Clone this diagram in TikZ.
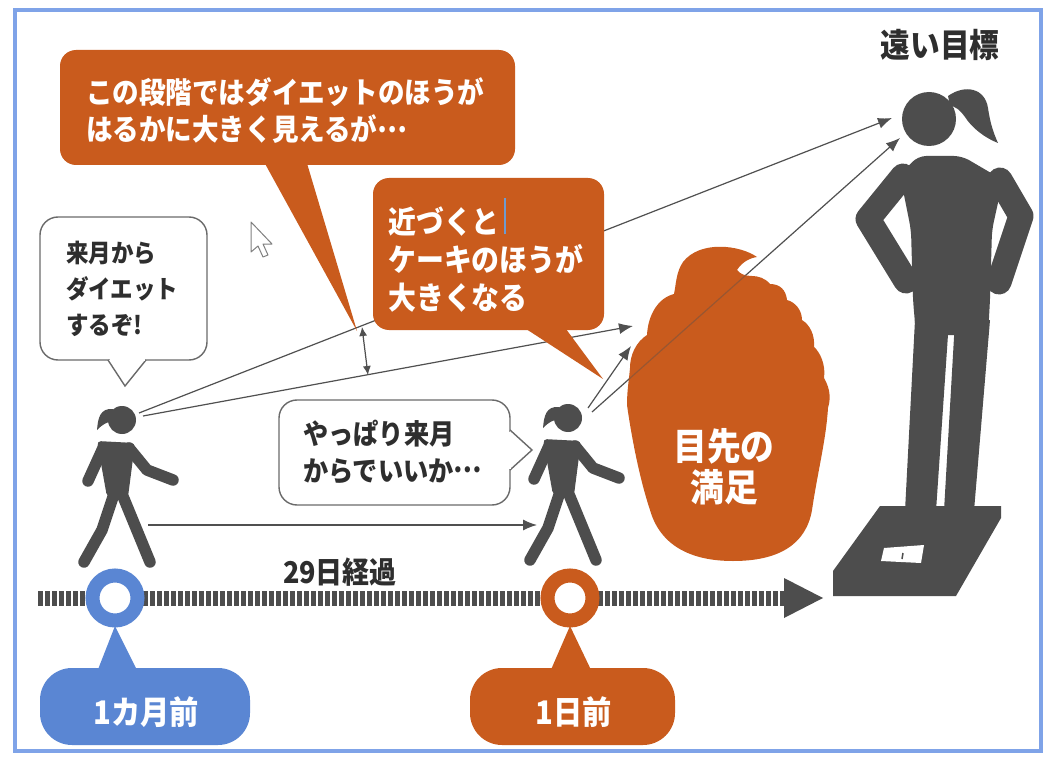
\documentclass[tikz,border=0pt]{standalone}
\usepackage{fontspec}
\setmainfont{Noto Sans CJK JP}[FakeStretch=0.9]
\usetikzlibrary{arrows.meta}

\definecolor{orng}{HTML}{C95B1D}
\definecolor{figgray}{HTML}{4D4D4D}
\definecolor{linegray}{HTML}{505050}
\definecolor{frameblue}{HTML}{7FA3E8}
\definecolor{tagblue}{HTML}{5A86D3}
\definecolor{textgray}{HTML}{2E2E2E}
\definecolor{boxgray}{HTML}{6A6A6A}
\definecolor{caretblue}{HTML}{6E9BD0}

% ellipsis set at mid height, as in Japanese typesetting
\newcommand\jpdots{\raisebox{0.3em}{…}}

\tikzset{
  sight/.style={draw=linegray, line width=1.2pt, -{Latex[length=14pt,width=11pt]}},
  gapline/.style={draw=linegray, line width=1.2pt, {Latex[length=9pt,width=8pt]}-{Latex[length=9pt,width=8pt]}},
  limb/.style={draw=figgray, line width=11.5pt, line cap=round, line join=round},
  biglimb/.style={draw=figgray, line width=25pt, line cap=round, line join=round},
  whitebubble/.style={fill=white, draw=boxgray, line width=1.4pt},
  wtext/.style={text=white, inner sep=0pt, align=left},
  dtext/.style={text=textgray, inner sep=0pt, align=left},
  walker/.pic={
    \fill[figgray] (0,0) circle (14pt);
    \fill[figgray] (-9,-11) .. controls (-22,-12) and (-24,-2) .. (-25,10)
                   .. controls (-19,4) and (-15,2) .. (-11,2) -- cycle;
    \fill[figgray, rounded corners=4pt] (-25,21) -- (13,23) -- (6,77) -- (-15,77) -- cycle;
    \draw[limb] (-19,28) -- (-34,61);
    \draw[limb] (7,28) -- (25,50) -- (51,60);
    \draw[limb] (-8,74) -- (-20,110) -- (-38,142);
    \draw[limb] (0,74) -- (28,142);
  }
}

% outline of the cupcake: tiered frosting with a curl on top, then the cup
\newcommand\cakeoutline{(757,257)
  .. controls (740,245) and (700,240) .. (683,262)
  .. controls (676,272) and (676,285) .. (674,294)
  .. controls (658,298) and (648,315) .. (647,335)
  .. controls (636,342) and (630,355) .. (630,368)
  .. controls (629,380) and (627,390) .. (627,405)
  .. controls (632,440) and (640,480) .. (650,510)
  .. controls (660,545) and (690,561) .. (733,561)
  .. controls (778,561) and (806,545) .. (812,510)
  .. controls (818,470) and (826,440) .. (828,408)
  .. controls (832,395) and (828,385) .. (824,378)
  .. controls (826,365) and (820,352) .. (814,347)
  .. controls (815,335) and (810,325) .. (802,320)
  .. controls (802,310) and (795,302) .. (787,300)
  .. controls (786,290) and (780,284) .. (770,284)
  .. controls (765,278) and (758,276) .. (752,276)
  .. controls (745,276) and (740,274) .. (737,270)
  .. controls (742,262) and (750,258) .. (757,257) -- cycle}

\begin{document}
\begin{tikzpicture}[x=1pt,y=-1pt]
\useasboundingbox (0,0) rectangle (1053,757);
\fill[white] (0,0) rectangle (1053,757);
\draw[frameblue, line width=4pt] (15,10) rectangle (1041,751);

% ---- anchor points of the sight lines
\coordinate (f1a) at (139,413);
\coordinate (f1b) at (143,416);
\coordinate (f2a) at (588,408);
\coordinate (f2b) at (592,412);
\coordinate (goalA) at (892,118);
\coordinate (goalB) at (900,138);
\coordinate (cakeA) at (633,326);
\coordinate (cakeB) at (631,346);
\coordinate (walkS) at (148,525);
\coordinate (walkE) at (537,525);
\coordinate (gapT) at (362,327);
\coordinate (gapB) at (368,375);

\draw[sight] (f1a) -- (goalA);
\draw[sight] (f1b) -- (cakeA);
\draw[sight] (f2a) -- (cakeB);
\draw[sight] (f2b) -- (goalB);
\draw[sight] (walkS) -- (walkE);
\draw[gapline] (gapT) -- (gapB);

% ---- orange callouts
\fill[orng, rounded corners=16pt] (60,50) rectangle (515,165);
\fill[orng] (263,160) -- (306,160) -- (357,331) -- cycle;
\node[wtext, anchor=west, font=\bfseries\fontsize{29.5}{37}\selectfont] (note1) at (86,111)
  {この段階ではダイエットのほうが\\はるかに大きく見えるが\jpdots};

\fill[orng, rounded corners=16pt] (373,178) rectangle (604,330);
\fill[orng] (520,325) -- (563,325) -- (603,379) -- cycle;
\node[wtext, anchor=west, font=\bfseries\fontsize{31}{38}\selectfont] (note2) at (388,260)
  {近づくと\\ケーキのほうが\\大きくなる};
\draw[caretblue, line width=1.2pt] (505,198) -- (505,234);

% ---- white speech bubbles
\filldraw[whitebubble, rounded corners=18pt] (40,217) rectangle (207,360);
\filldraw[whitebubble] (108,360) -- (125,386) -- (146,360);
\draw[white, line width=2.6pt] (109.5,360) -- (144.5,360);
\node[dtext, anchor=west, font=\bfseries\fontsize{25}{36}\selectfont] (say1) at (66,289)
  {来月から\\ダイエット\\するぞ!};

\filldraw[whitebubble, rounded corners=18pt] (279,400) rectangle (510,505);
\filldraw[whitebubble] (510,430) -- (532,450) -- (510,470);
\draw[white, line width=2.6pt] (510,431.5) -- (510,468.5);
\node[dtext, anchor=west, font=\bfseries\fontsize{28}{37}\selectfont] (say2) at (303,452)
  {やっぱり来月\\からでいいか\jpdots};

% ---- mouse pointer
\filldraw[fill=white, draw=gray, line width=1pt, line join=round]
  (251,222) -- (251,252) -- (258,246) -- (263,257) -- (268,255) -- (263,244) -- (272,244) -- cycle;

% ---- cupcake
\fill[orng] \cakeoutline;
\begin{scope}
  \clip \cakeoutline;
  \draw[linegray, line width=1.2pt, opacity=0.4] (f2b) -- (goalB);
\end{scope}
\node[text=white, inner sep=0pt, align=center, font=\bfseries\fontsize{37.5}{41}\selectfont] (cake) at (724,467)
  {目先の\\満足};

% ---- walking figures
\pic at (122,420) {walker};
\pic at (568,418) {walker};

% ---- distant goal: standing figure on a scale
\node[text=textgray, inner sep=0pt, font=\bfseries\fontsize{33}{36}\selectfont] (goal) at (940,45) {遠い目標};
\fill[figgray] (929,119) circle (27pt);
\fill[figgray] (948,96) .. controls (965,84) and (985,88) .. (988,108)
               .. controls (990,122) and (993,132) .. (998,143)
               .. controls (985,138) and (972,128) .. (965,117)
               .. controls (960,110) and (955,106) .. (950,106) -- cycle;
\fill[figgray, rounded corners=8pt] (918,156) -- (962,156) -- (1003,180) -- (992,230)
  -- (990,300) -- (988,335) -- (916,335) -- (913,300) -- (911,230) -- (900,175) -- cycle;
\draw[biglimb] (903,176) -- (868,219) -- (906,281);
\draw[biglimb] (1000,180) -- (1021,216) -- (999,282);
\fill[figgray] (915,320) -- (949,320) -- (936,511) -- (905,511) -- cycle;
\fill[figgray] (955,320) -- (990,320) -- (974,511) -- (944,511) -- cycle;
\fill[figgray] (880,506) -- (1001,506) -- (1001,518) -- (956,596) -- (833,596) -- (833,571) -- cycle;
\fill[white] (884,548) -- (924,545) -- (921,563) -- (881,561) -- cycle;
\draw[figgray, line width=1.5pt] (903,553) -- (902,559);

% ---- time line
\coordinate (tlS) at (38,598);
\coordinate (tlE) at (786,598);
\draw[figgray, line width=15pt, dash pattern=on 4.5pt off 2.5pt] (tlS) -- (tlE);
\fill[figgray] (784,578) -- (823,598) -- (784,618) -- cycle;
\node[text=textgray, inner sep=0pt, font=\bfseries\fontsize{30}{32}\selectfont] (days) at (340,572) {29日経過};

\draw[tagblue, line width=14pt, fill=white] (115,598) circle (22.5pt);
\draw[orng, line width=14pt, fill=white] (570,598) circle (22.5pt);

% ---- time tags
\fill[tagblue, rounded corners=32pt] (40,668) rectangle (250,745);
\fill[tagblue] (97,672) -- (115,626) -- (138,672) -- cycle;
\node[text=white, inner sep=0pt, font=\bfseries\fontsize{32.5}{34}\selectfont] (tag1) at (146,712) {1カ月前};

\fill[orng, rounded corners=32pt] (470,668) rectangle (675,745);
\fill[orng] (550,672) -- (570,626) -- (592,672) -- cycle;
\node[text=white, inner sep=0pt, font=\bfseries\fontsize{32.5}{34}\selectfont] (tag2) at (574,712) {1日前};
\end{tikzpicture}
\end{document}
